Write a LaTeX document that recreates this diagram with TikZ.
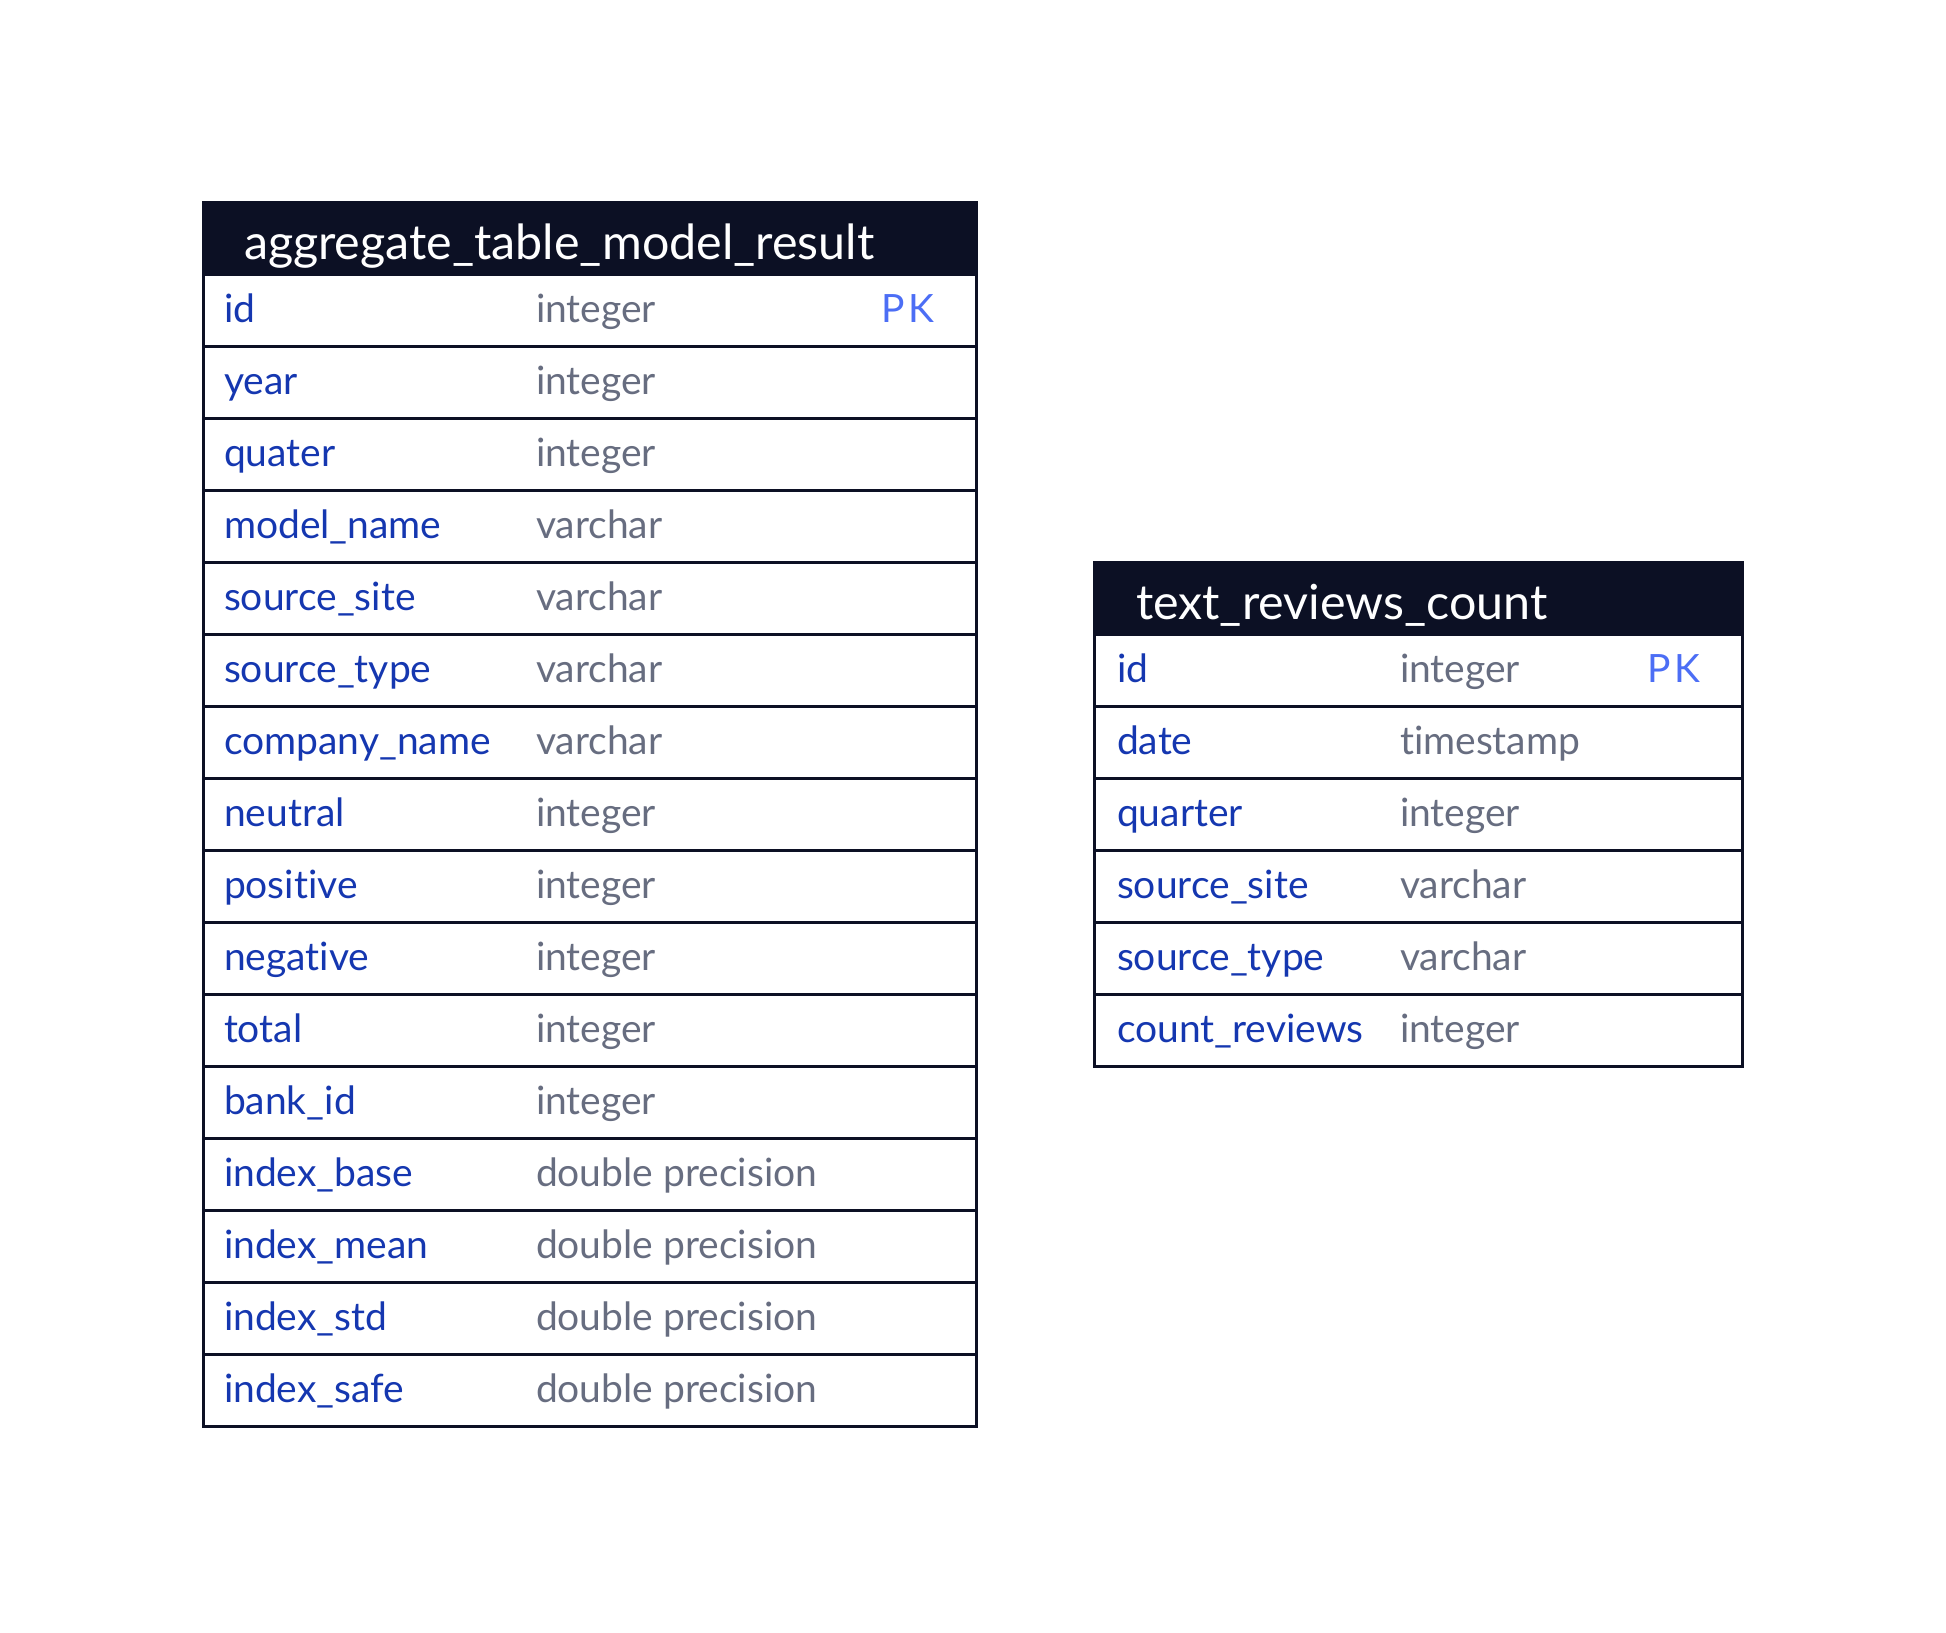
\documentclass[tikz,border=0pt]{standalone}
\usepackage{fontspec}
\setmainfont{Lato}[Ligatures=NoCommon]
\definecolor{headbg}{HTML}{0C1024}
\definecolor{namecol}{HTML}{1537B0}
\definecolor{typecol}{HTML}{676D80}
\definecolor{pkcol}{HTML}{4C6EF5}

\begin{document}
\begin{tikzpicture}[x=0.5pt,y=-0.5pt]
        \tikzstyle{every node} = [inner sep=0pt, outer sep=0pt]
        \tikzstyle{rowbox} = [rectangle, draw=headbg, line width=1.5pt, minimum height=36pt]
        \tikzstyle{headbox} = [rowbox, fill=headbg]
        \tikzstyle{headtext} = [anchor=base west, text=white, font=\fontsize{24.2}{29}\selectfont]
        \tikzstyle{fieldname} = [anchor=base west, text=namecol, font=\fontsize{19.5}{23}\selectfont]
        \tikzstyle{fieldtype} = [fieldname, text=typecol]
        \tikzstyle{pk} = [fieldname, text=pkcol]
        \useasboundingbox (0,0) rectangle (1946,1632);

        % aggregate_table_model_result
        \node[headbox, minimum width=386.5pt] (agg) at (590,238) {};
        \node[headtext] (aggtitle) at (244,259) {aggregate\_table\_model\_result};
        \foreach \i/\name/\type in {1/id/integer, 2/year/integer, 3/quater/integer,
                4/model\_name/varchar, 5/source\_site/varchar, 6/source\_type/varchar,
                7/company\_name/varchar, 8/neutral/integer, 9/positive/integer,
                10/negative/integer, 11/total/integer, 12/bank\_id/integer,
                13/index\_base/double precision, 14/index\_mean/double precision,
                15/index\_std/double precision, 16/index\_safe/double precision}
        {
            \node[rowbox, minimum width=386.5pt] (agg\i) at (590,238+72*\i) {};
            \node[fieldname] (agg\i-name) at (224,250.5+72*\i) {\name};
            \node[fieldtype] (agg\i-type) at (536,250.5+72*\i) {\type};
        }
        \node[pk] (agg1-pk) at (881,322.5) {P\kern2pt K};

        % text_reviews_count
        \node[headbox, minimum width=324pt] (trc) at (1418.5,598) {};
        \node[headtext] (trctitle) at (1136,619) {text\_reviews\_count};
        \foreach \i/\name/\type in {1/id/integer, 2/date/timestamp, 3/quarter/integer,
                4/source\_site/varchar, 5/source\_type/varchar, 6/count\_reviews/integer}
        {
            \node[rowbox, minimum width=324pt] (trc\i) at (1418.5,598+72*\i) {};
            \node[fieldname] (trc\i-name) at (1117,610.5+72*\i) {\name};
            \node[fieldtype] (trc\i-type) at (1400,610.5+72*\i) {\type};
        }
        \node[pk] (trc1-pk) at (1647,682.5) {P\kern2pt K};
\end{tikzpicture}
\end{document}
